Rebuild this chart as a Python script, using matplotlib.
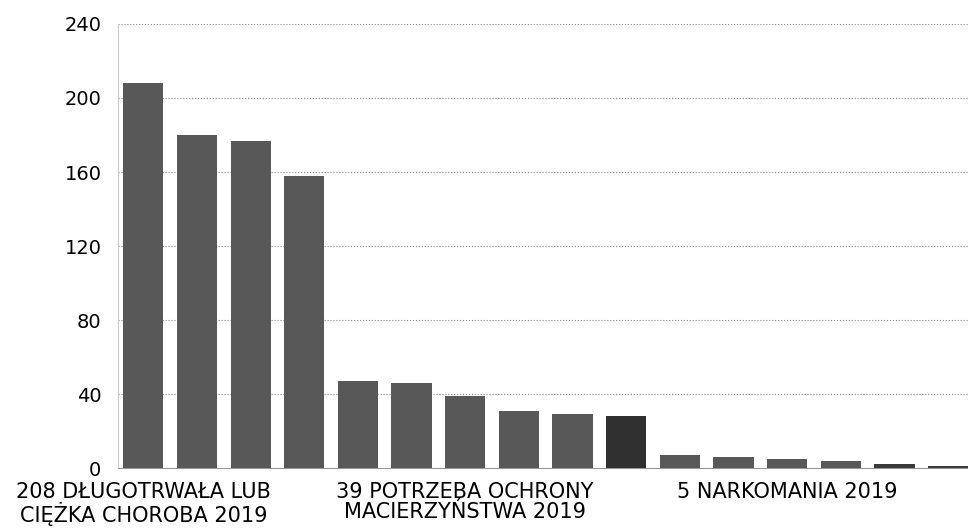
import matplotlib.pyplot as plt

# wartości słupków
values = [208, 180, 177, 158, 47, 46, 39, 31, 29, 28, 7, 6, 5, 4, 2, 1]
label_pos = [0, 6, 12]
labels = ['208 DŁUGOTRWAŁA LUB\nCIĘŻKA CHOROBA 2019',
          '39 POTRZEBA OCHRONY\nMACIERZYŃSTWA 2019',
          '5 NARKOMANIA 2019']
yticks = [0, 40, 80, 120, 160, 200, 240]

colors = ['#585858'] * len(values)
colors[9] = '#303030'
colors[14] = '#3a3a3a'
colors[15] = '#3a3a3a'

fig = plt.figure(figsize=(9.68, 5.32), dpi=100)
ax = fig.add_axes([0.122, 0.12, 0.878, 0.835])

x = range(len(values))
ax.bar(x, values, width=0.75, color=colors, zorder=3)

ax.set_ylim(0, 240)
ax.set_xlim(-0.47, 15.37)
ax.set_yticks(yticks)
ax.set_yticklabels([str(v) for v in yticks], fontsize=14)
ax.set_xticks(label_pos)
ax.set_xticklabels(labels, fontsize=15, linespacing=1.0)
ax.tick_params(axis='both', length=0)
ax.tick_params(axis='y', pad=12)
ax.tick_params(axis='x', pad=10)

ax.grid(axis='y', linestyle=':', color='#888888', linewidth=0.8, zorder=0)
for side in ['top', 'right']:
    ax.spines[side].set_visible(False)
ax.spines['left'].set_color('#cccccc')
ax.spines['bottom'].set_color('#999999')

plt.savefig('out.png')
